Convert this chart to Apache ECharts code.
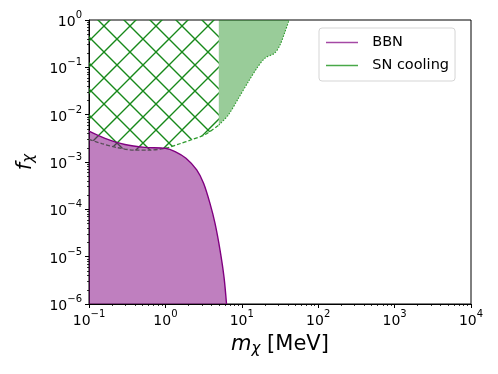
<!DOCTYPE html>
<html>
<head>
<meta charset="utf-8">
<script src="https://cdn.jsdelivr.net/npm/echarts@6/dist/echarts.min.js"></script>
<style>
html, body { margin: 0; padding: 0; background: #fff; }
#chart { width: 498px; height: 374px; }
</style>
</head>
<body>
<div id="chart"></div>
<script>
// tick positions (decades)
const xMajor = [0.1, 1, 10, 100, 1000, 10000]
const yMajor = [1e-6, 1e-5, 1e-4, 1e-3, 1e-2, 1e-1, 1]

// BBN bound, m [MeV] vs f
const bbnX = [0.1, 0.162, 0.295, 0.537, 1.0, 1.34, 1.86, 2.57, 3.16, 3.84, 4.47, 5.19, 5.85, 6.31]
const bbnY = [4.47e-3, 3.16e-3, 2.34e-3, 2.04e-3, 1.95e-3, 1.66e-3, 1.2e-3, 6.8e-4, 3.55e-4, 1.32e-4, 5.0e-5, 1.38e-5, 3.7e-6, 1e-6]

// SN cooling, hatched part (lower edge, dashed)
const snHatchX = [0.1, 0.147, 0.24, 0.40, 0.60, 1.0, 1.51, 2.19, 3.31, 5.0]
const snHatchY = [3.02e-3, 2.45e-3, 2.0e-3, 1.78e-3, 1.78e-3, 1.95e-3, 2.4e-3, 2.95e-3, 3.8e-3, 6.0e-3]

// SN cooling, filled part (lower edge, dotted)
const snFillX = [5.0, 6.65, 9.0, 12.2, 15.7, 20.0, 26.9, 31.6, 36.7, 41.7]
const snFillY = [6.0e-3, 9.8e-3, 2.19e-2, 5.0e-2, 9.5e-2, 0.155, 0.20, 0.295, 0.56, 1.0]

function pairs(xs, ys) {
  return xs.map((x, i) => [x, ys[i]])
}
function minorOf(majors) {
  const out = []
  for (let i = 0; i < majors.length - 1; i++) {
    for (let k = 2; k <= 9; k++) out.push(majors[i] * k)
  }
  return out
}

// cross hatch tile
const hatch = document.createElement('canvas')
hatch.width = 26
hatch.height = 26
const hc = hatch.getContext('2d')
hc.strokeStyle = '#17891a'
hc.lineWidth = 1.4
hc.beginPath()
for (const off of [-26, 0, 26]) {
  hc.moveTo(off - 2, -2); hc.lineTo(off + 28, 28)
  hc.moveTo(off + 28, -2); hc.lineTo(off - 2, 28)
}
hc.stroke()

const FONT = 'DejaVu Sans'
const supRich = {
  b: { fontSize: 14, fontFamily: FONT, color: '#000', padding: [5, 0, 0, 0] },
  s: { fontSize: 10, fontFamily: FONT, color: '#000', verticalAlign: 'top' }
}
function powLabel(v) {
  const e = Math.round(Math.log10(v))
  return '{b|10}{s|' + String(e).replace('-', '\u2212') + '}'
}

const chart = echarts.init(document.getElementById('chart'), null, { renderer: 'canvas' })

const option = {
  animation: false,
  backgroundColor: '#fff',
  grid: { left: 89, right: 27, top: 20, bottom: 70, show: true, borderColor: '#000', borderWidth: 1, backgroundColor: 'transparent' },
  legend: {
    left: 319, top: 28,
    orient: 'vertical',
    icon: 'rect',
    itemWidth: 32, itemHeight: 1.5, itemGap: 8,
    padding: [7, 6, 8, 7],
    borderColor: '#d5d5d5', borderWidth: 1, borderRadius: 3,
    backgroundColor: 'rgba(255,255,255,0.8)',
    formatter: name => '  ' + name,
    textStyle: { fontFamily: FONT, fontSize: 14.5, color: '#000' },
    data: [
      { name: 'BBN', itemStyle: { color: '#a448a4' } },
      { name: 'SN cooling', itemStyle: { color: '#48a848' } }
    ]
  },
  xAxis: [{
    type: 'log', logBase: 10, min: 0.1, max: 1e4,
    name: '{i|m}{sub|\u03c7}{t| [MeV]}',
    nameLocation: 'middle', nameGap: 29,
    nameTextStyle: {
      rich: {
        i: { fontSize: 21, fontFamily: FONT, fontStyle: 'italic', color: '#000' },
        sub: { fontSize: 15, fontFamily: FONT, fontStyle: 'italic', color: '#000', verticalAlign: 'bottom', padding: [9, 0, 0, 0] },
        t: { fontSize: 21, fontFamily: FONT, color: '#000' }
      }
    },
    axisLine: { show: true, onZero: false, lineStyle: { color: '#000', width: 1 } },
    axisTick: { show: true, length: 4, lineStyle: { color: '#000', width: 1 }, customValues: xMajor },
    axisLabel: { margin: 5, customValues: xMajor, formatter: powLabel, rich: supRich },
    splitLine: { show: false }
  }, {
    type: 'log', logBase: 10, min: 0.1, max: 1e4, position: 'bottom', gridIndex: 0,
    axisLine: { show: false },
    axisTick: { show: true, length: 2, lineStyle: { color: '#000', width: 0.8 }, customValues: minorOf(xMajor) },
    axisLabel: { show: false },
    splitLine: { show: false }
  }],
  yAxis: [{
    type: 'log', logBase: 10, min: 1e-6, max: 1,
    name: '{i|f}{sub|\u03c7}',
    nameLocation: 'middle', nameGap: 52, nameRotate: 90,
    nameTextStyle: {
      rich: {
        i: { fontSize: 21, fontFamily: FONT, fontStyle: 'italic', color: '#000' },
        sub: { fontSize: 15, fontFamily: FONT, fontStyle: 'italic', color: '#000', verticalAlign: 'bottom', padding: [8, 0, 0, 0] }
      }
    },
    axisLine: { show: true, onZero: false, lineStyle: { color: '#000', width: 1 } },
    axisTick: { show: true, length: 4, lineStyle: { color: '#000', width: 1 }, customValues: yMajor },
    axisLabel: { margin: 7, customValues: yMajor, formatter: powLabel, rich: supRich },
    splitLine: { show: false }
  }, {
    type: 'log', logBase: 10, min: 1e-6, max: 1, position: 'left', gridIndex: 0,
    axisLine: { show: false },
    axisTick: { show: true, length: 2, lineStyle: { color: '#000', width: 0.8 }, customValues: minorOf(yMajor) },
    axisLabel: { show: false },
    splitLine: { show: false }
  }],
  series: [
    {
      name: 'SN cooling', type: 'line', z: 2,
      data: pairs(snHatchX, snHatchY),
      smooth: 0.3, symbol: 'none', silent: true,
      lineStyle: { color: '#2c9a2c', width: 1.3, type: [4, 2] },
      areaStyle: { origin: 'end', color: { image: hatch, repeat: 'repeat' }, opacity: 1 }
    },
    {
      name: 'SN cooling', type: 'line', z: 2,
      data: pairs(snFillX, snFillY),
      smooth: 0.3, symbol: 'none', silent: true,
      lineStyle: { color: '#2c9a2c', width: 1.1, type: [1.5, 1.5] },
      areaStyle: { origin: 'end', color: 'rgba(0,128,0,0.4)', opacity: 1 }
    },
    {
      name: 'BBN', type: 'line', z: 3,
      data: pairs(bbnX, bbnY),
      smooth: 0.3, symbol: 'none', silent: true,
      lineStyle: { color: '#800080', width: 1.4 },
      areaStyle: { origin: 'start', color: 'rgba(128,0,128,0.5)', opacity: 1 }
    }
  ]
}
chart.setOption(option)
</script>
</body>
</html>
